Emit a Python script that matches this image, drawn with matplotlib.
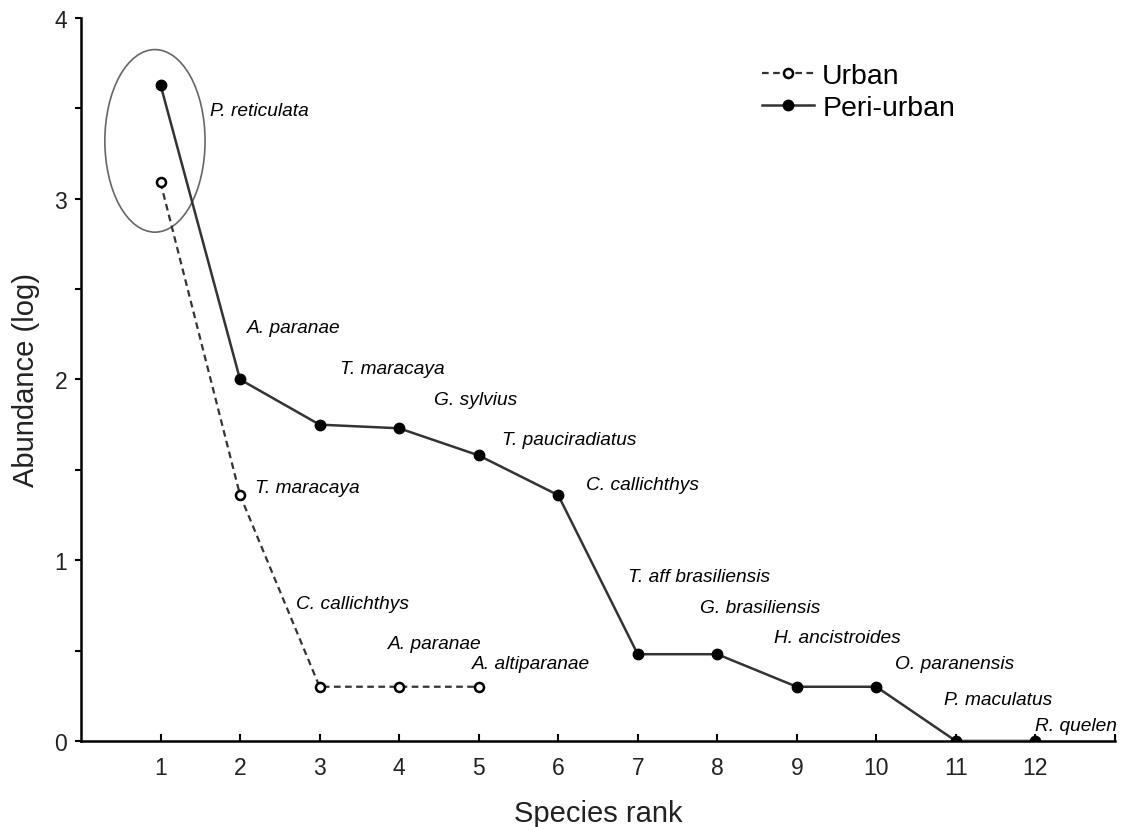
import numpy as np
import matplotlib
matplotlib.use("Agg")
import matplotlib.pyplot as plt
from matplotlib.patches import Ellipse

plt.rcParams['font.family'] = ['Liberation Sans', 'DejaVu Sans']

# data
rank_peri = [1, 2, 3, 4, 5, 6, 7, 8, 9, 10, 11, 12]
abund_peri = [3.63, 2.0, 1.75, 1.73, 1.58, 1.36, 0.48, 0.48, 0.30, 0.30, 0.0, 0.0]
rank_urban = [1, 2, 3, 4, 5]
abund_urban = [3.09, 1.36, 0.30, 0.30, 0.30]

names_peri = ["P. reticulata", "A. paranae", "T. maracaya", "G. sylvius",
              "T. pauciradiatus", "C. callichthys", "T. aff brasiliensis",
              "G. brasiliensis", "H. ancistroides", "O. paranensis",
              "P. maculatus", "R. quelen"]
names_urban = ["T. maracaya", "C. callichthys", "A. paranae", "A. altiparanae"]

# label anchors (data coords, left / center)
lab_peri_xy = [(1.62, 3.49), (2.09, 2.29), (3.26, 2.06), (4.44, 1.89),
               (5.29, 1.67), (6.35, 1.42), (6.88, 0.91), (7.78, 0.74),
               (8.72, 0.575), (10.23, 0.43), (10.85, 0.23), (11.99, 0.083)]
lab_urban_xy = [(2.19, 1.40), (2.70, 0.76), (3.86, 0.54), (4.92, 0.43)]

fig = plt.figure(figsize=(11.25, 8.28), dpi=100)
ax = fig.add_axes([0.072, 0.1039, 0.919, 0.8732])

ax.plot(rank_urban, abund_urban, linestyle=(0, (3, 2)), color='#333333', lw=1.6,
        marker='o', markersize=6.5, markerfacecolor='white',
        markeredgecolor='black', markeredgewidth=1.8, label='Urban', zorder=3)
ax.plot(rank_peri, abund_peri, linestyle='-', color='#333333', lw=1.8,
        marker='o', markersize=7.5, markerfacecolor='black',
        markeredgecolor='black', label='Peri-urban', zorder=3)

for name, (x, y) in zip(names_peri, lab_peri_xy):
    ax.text(x, y, name, fontsize=13.8, style='italic', ha='left', va='center')
for name, (x, y) in zip(names_urban, lab_urban_xy):
    ax.text(x, y, name, fontsize=13.8, style='italic', ha='left', va='center')

ax.add_patch(Ellipse((0.93, 3.32), 1.26, 1.01, fill=False,
                     edgecolor='#666666', lw=1.2))

ax.set_xlim(0, 13)
ax.set_ylim(0, 4)
ax.set_xticks(range(1, 13))
ax.set_xticks([13], minor=True)
ax.set_yticks([0, 1, 2, 3, 4])
ax.set_yticks([0.5, 1.5, 2.5, 3.5], minor=True)
ax.tick_params(axis='x', which='both', direction='in', length=5, width=1.5,
               labelsize=16.5, pad=11, labelcolor='#222222')
ax.tick_params(axis='y', which='both', direction='out', length=4, width=1.5,
               labelsize=16.5, pad=6, labelcolor='#222222')
ax.spines['top'].set_visible(False)
ax.spines['right'].set_visible(False)
ax.spines['left'].set_linewidth(1.8)
ax.spines['bottom'].set_linewidth(1.8)

ax.set_xlabel("Species rank", fontsize=21, color='#222222', labelpad=14)
ax.set_ylabel("Abundance (log)", fontsize=21, color='#222222', labelpad=10)

ax.legend(loc='upper left', bbox_to_anchor=(0.665, 0.94),
          bbox_transform=fig.transFigure, frameon=False, fontsize=20.5,
          handlelength=1.8, handletextpad=0.3, labelspacing=0.2,
          borderpad=0.0)

fig.savefig("out.png", dpi=100)
